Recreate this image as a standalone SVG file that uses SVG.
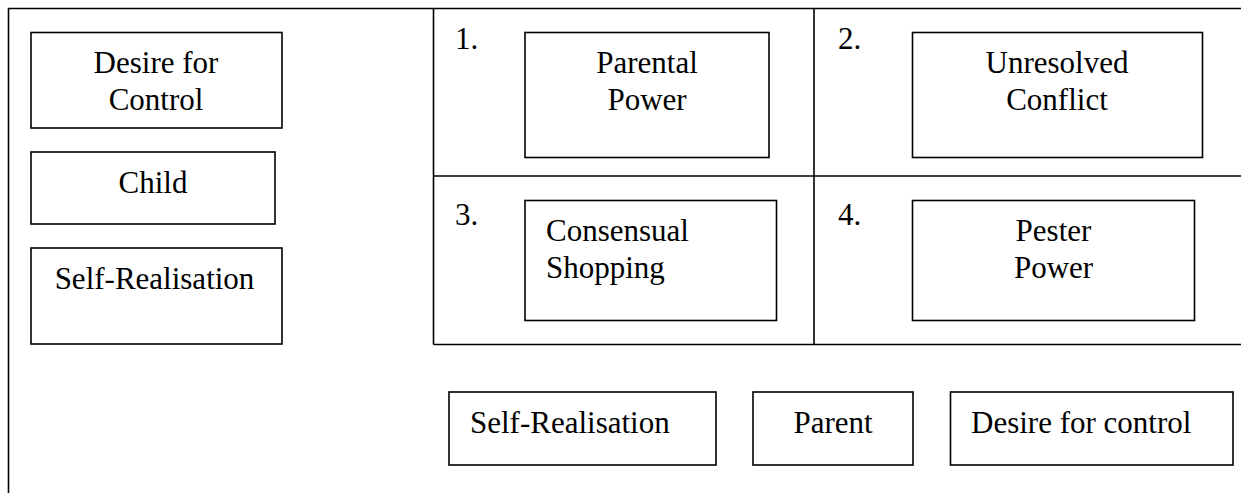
<svg xmlns="http://www.w3.org/2000/svg" width="1241" height="493" viewBox="0 0 1241 493">
<style>
.box{fill:#fff;stroke:#000;stroke-width:1.6}
.ln{stroke:#000;stroke-width:1.6;fill:none}
.t{font-family:"Liberation Serif",serif;font-size:31px;fill:#000}
.c{text-anchor:middle}
</style>
<rect width="1241" height="493" fill="#fff"/>
<g id="frame">
<path class="ln" d="M8.5,493 V8.5 H1241"/>
<path class="ln" d="M433.5,8.5 V344.5 M814,8.5 V344.5 M433.5,176 H1241 M433.5,344.5 H1241"/>
</g>
<g id="connectors"></g>
<g id="desire-control-left">
<rect class="box" x="31" y="32.5" width="251" height="95.5"/>
<text class="t c" x="156" y="72.5" font-family="Liberation Serif">Desire for</text>
<text class="t c" x="156" y="110" font-family="Liberation Serif">Control</text>
</g>
<g id="child">
<rect class="box" x="31" y="152" width="244" height="72"/>
<text class="t c" x="153" y="192.5" font-family="Liberation Serif">Child</text>
</g>
<g id="self-realisation-left">
<rect class="box" x="31" y="248" width="251" height="96"/>
<text class="t c" x="154.5" y="288.5" font-family="Liberation Serif">Self-Realisation</text>
</g>
<g id="label-1"><text class="t" x="455" y="48.5" font-family="Liberation Serif">1.</text></g>
<g id="label-2"><text class="t" x="838" y="48.5" font-family="Liberation Serif">2.</text></g>
<g id="label-3"><text class="t" x="455" y="225" font-family="Liberation Serif">3.</text></g>
<g id="label-4"><text class="t" x="838" y="225" font-family="Liberation Serif">4.</text></g>
<g id="parental-power">
<rect class="box" x="525" y="32.5" width="244" height="125"/>
<text class="t c" x="647" y="72.5" font-family="Liberation Serif">Parental</text>
<text class="t c" x="647" y="110" font-family="Liberation Serif">Power</text>
</g>
<g id="unresolved-conflict">
<rect class="box" x="912.5" y="32.5" width="290" height="125"/>
<text class="t c" x="1057" y="72.5" font-family="Liberation Serif">Unresolved</text>
<text class="t c" x="1057" y="110" font-family="Liberation Serif">Conflict</text>
</g>
<g id="consensual-shopping">
<rect class="box" x="525" y="200.5" width="251.5" height="120"/>
<text class="t" x="546" y="240.5" font-family="Liberation Serif">Consensual</text>
<text class="t" x="546" y="277.5" font-family="Liberation Serif">Shopping</text>
</g>
<g id="pester-power">
<rect class="box" x="912.5" y="200.5" width="282" height="120"/>
<text class="t c" x="1053.5" y="240.5" font-family="Liberation Serif">Pester</text>
<text class="t c" x="1053.5" y="277.5" font-family="Liberation Serif">Power</text>
</g>
<g id="self-realisation-bottom">
<rect class="box" x="449" y="392" width="267" height="73"/>
<text class="t" x="470" y="433" font-family="Liberation Serif">Self-Realisation</text>
</g>
<g id="parent">
<rect class="box" x="753" y="392" width="160" height="73"/>
<text class="t c" x="833" y="433" font-family="Liberation Serif">Parent</text>
</g>
<g id="desire-control-bottom">
<rect class="box" x="950.5" y="392" width="282.5" height="73"/>
<text class="t" x="971" y="433" font-family="Liberation Serif">Desire for control</text>
</g>
</svg>
